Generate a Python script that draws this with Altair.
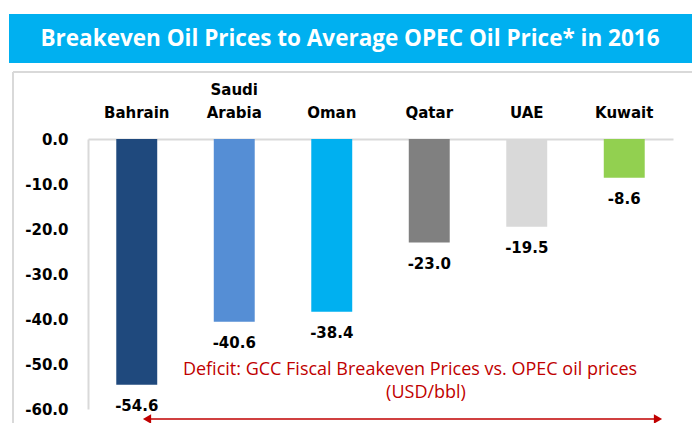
import altair as alt
import pandas as pd

countries = ["Bahrain", "Saudi Arabia", "Oman", "Qatar", "UAE", "Kuwait"]
values = [-54.6, -40.6, -38.4, -23.0, -19.5, -8.6]
colors = ["#1F497D", "#558ED5", "#00B0F0", "#808080", "#D9D9D9", "#92D050"]
y_ticks = [0, -10, -20, -30, -40, -50, -60]
title_text = "Breakeven Oil Prices to Average OPEC Oil Price* in 2016"
note_line1 = "Deficit: GCC Fiscal Breakeven Prices vs. OPEC oil prices"
note_line2 = "(USD/bbl)"

df = pd.DataFrame({"country": countries, "value": values, "color": colors})
one = pd.DataFrame({"k": [0]})

W, H = 585, 270
AX_FONT = "DejaVu Sans"

x_enc = alt.X("country:N", sort=countries,
              scale=alt.Scale(paddingInner=0.58, paddingOuter=0.29),
              axis=alt.Axis(orient="top", labels=False, ticks=False, title=None,
                            domainColor="#D9D9D9", domainWidth=2))
y_enc = alt.Y("value:Q", scale=alt.Scale(domain=[-60, 0], nice=False),
              axis=alt.Axis(values=y_ticks, format=".1f", title=None, ticks=False, grid=False,
                            labelExpr="replace(datum.label, '\u2212', '-')",
                            labelFont=AX_FONT, labelFontWeight="bold", labelFontSize=15,
                            labelColor="black", labelPadding=20,
                            domainColor="#D9D9D9", domainWidth=2))

base = alt.Chart(df)

bars = base.mark_bar().encode(
    x=x_enc, y=y_enc, y2=alt.datum(0),
    color=alt.Color("color:N", scale=None),
)

vals = base.transform_calculate(
    lab="replace(format(datum.value, '.1f'), '\u2212', '-')"
).mark_text(font=AX_FONT, fontWeight="bold", fontSize=15, color="black",
            baseline="middle", dy=21).encode(
    x=alt.X("country:N", sort=countries), y="value:Q", text="lab:N")

cat_style = dict(font=AX_FONT, fontWeight="bold", fontSize=15, color="black", baseline="bottom")
cats_low = base.transform_calculate(
    lab="indexof(datum.country, ' ') >= 0 ? substring(datum.country, indexof(datum.country, ' ') + 1) : datum.country"
).mark_text(**cat_style).encode(
    x=alt.X("country:N", sort=countries), y=alt.value(-18), text="lab:N")
cats_high = base.transform_filter(
    "indexof(datum.country, ' ') >= 0"
).transform_calculate(
    lab="substring(datum.country, 0, indexof(datum.country, ' '))"
).mark_text(**cat_style).encode(
    x=alt.X("country:N", sort=countries), y=alt.value(-41), text="lab:N")

dec = alt.Chart(one)
banner = dec.mark_rect(color="#00B0F0").encode(
    x=alt.value(-79), x2=alt.value(604), y=alt.value(-125), y2=alt.value(-76))
title = dec.mark_text(text=title_text, font="Open Sans", fontWeight="bold", fontSize=22.5,
                      color="white", baseline="middle", align="center").encode(
    x=alt.value(262), y=alt.value(-100))
frame_top = dec.mark_rule(color="#D9D9D9", strokeWidth=2).encode(
    x=alt.value(-75), x2=alt.value(604), y=alt.value(-67))
frame_left = dec.mark_rule(color="#D9D9D9", strokeWidth=2).encode(
    x=alt.value(-75), y=alt.value(-67), y2=alt.value(284))
note1 = dec.mark_text(text=note_line1, font="Open Sans", fontSize=18, color="#C00000",
                      baseline="middle", align="center").encode(
    x=alt.value(322), y=alt.value(231))
note2 = dec.mark_text(text=note_line2, font="Open Sans", fontSize=18, color="#C00000",
                      baseline="middle", align="center").encode(
    x=alt.value(338), y=alt.value(254))
arrow_line = dec.mark_rule(color="#C00000", strokeWidth=1.5).encode(
    x=alt.value(60), x2=alt.value(570), y=alt.value(280))
arrow_l = dec.mark_point(shape="triangle-left", filled=True, color="#C00000",
                         size=90, opacity=1).encode(x=alt.value(59), y=alt.value(280))
arrow_r = dec.mark_point(shape="triangle-right", filled=True, color="#C00000",
                         size=90, opacity=1).encode(x=alt.value(570), y=alt.value(280))

chart = alt.layer(
    banner, title, frame_top, frame_left, bars, vals, cats_low, cats_high, note1, note2,
    arrow_line, arrow_l, arrow_r
).properties(
    width=W, height=H,
    autosize=alt.AutoSizeParams(type="none"),
    padding={"left": 88, "top": 139, "right": 19, "bottom": 14},
    background="white",
).configure_view(stroke=None)

chart.save("out.html", embed_options={"renderer": "svg", "actions": False})
